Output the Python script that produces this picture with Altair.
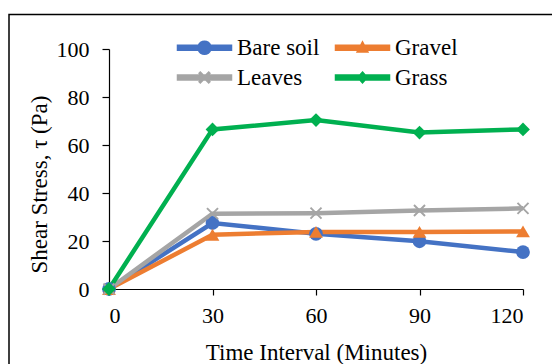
import math
import altair as alt
import pandas as pd

# ---- data ----
times = [0, 30, 60, 90, 120]
series_names = ["Bare soil", "Gravel", "Leaves", "Grass"]
bare_soil = [0, 27.5, 23.0, 19.9, 15.4]
gravel = [0, 22.6, 23.8, 23.8, 24.0]
leaves = [0, 31.4, 31.6, 32.7, 33.6]
grass = [0, 66.5, 70.4, 65.2, 66.5]
y_ticks = [0, 20, 40, 60, 80, 100]
x_ticks = [0, 30, 60, 90, 120]

values = {"Bare soil": bare_soil, "Gravel": gravel, "Leaves": leaves, "Grass": grass}
rows = []
for name in series_names:
    for t, v in zip(times, values[name]):
        rows.append({"series": name, "time": t, "stress": v})
df = pd.DataFrame(rows)

# ---- styles ----
colors = ["#4472C4", "#ED7D31", "#A5A5A5", "#00B050"]
FONT = "Liberation Serif"
LFONT = "Times New Roman"

X_PATH = ("M -0.7 -0.9 L 0.9 0.7 L 0.7 0.9 L -0.9 -0.7 Z "
          "M 0.7 -0.9 L 0.9 -0.7 L -0.7 0.9 L -0.9 0.7 Z")
plot_shapes = ["circle", "triangle-up", X_PATH, "diamond"]

def poly_circle(r, n=20):
    pts = []
    for i in range(n):
        a = -math.pi + 2 * math.pi * i / n
        pts.append(f"{r*math.cos(a):.3f} {r*math.sin(a):.3f}")
    return "M " + " L ".join(pts) + " Z"

LINE = "M -4.5 -0.4 L 4.5 -0.4 L 4.5 0.4 L -4.5 0.4 Z "
legend_paths = [
    LINE + poly_circle(1.1),
    LINE + "M 0 -1 L 0.9 0.7 L -0.9 0.7 Z",
    LINE + X_PATH,
    LINE + "M 0 -0.9 L 0.8 0 L 0 0.9 L -0.8 0 Z",
]

x_enc = alt.X("time:Q", scale=alt.Scale(domain=[0, 120], nice=False),
              axis=alt.Axis(values=x_ticks, title="Time Interval (Minutes)",
                            labelFont=LFONT,
                            tickSize=6, labelPadding=10, titleY=63, titleBaseline="middle"))
y_enc = alt.Y("stress:Q", scale=alt.Scale(domain=[0, 100], nice=False),
              axis=alt.Axis(values=y_ticks, title="Shear Stress, τ (Pa)",
                            labelFont=LFONT,
                            tickSize=7, labelPadding=13, titleX=-70, titleY=135,
                            titleAngle=270, titleBaseline="middle", titleAlign="center"))
color_scale = alt.Scale(domain=series_names, range=colors)

base = alt.Chart(df)

leg = alt.Legend(title=None, orient="none", legendX=84, legendY=-13, columns=2,
                 direction="horizontal", symbolSize=144, symbolOpacity=1,
                 labelFont=LFONT, labelFontSize=23, labelColor="black",
                 labelOffset=21, columnPadding=12, rowPadding=6)

# carrier of the legend: tiny symbols hidden underneath the lines
legend_layer = base.mark_point(filled=True, size=1).encode(
    x=x_enc, y=y_enc,
    color=alt.Color("series:N", scale=color_scale, legend=leg),
    shape=alt.Shape("series:N", scale=alt.Scale(domain=series_names, range=legend_paths),
                    legend=leg),
)

lines = base.mark_line(strokeWidth=4.5).encode(
    x="time:Q", y="stress:Q",
    color=alt.Color("series:N", scale=color_scale, legend=None),
    detail="series:N",
)

point_layers = []
for name, shp in zip(series_names, plot_shapes):
    point_layers.append(
        base.transform_filter(alt.datum.series == name).mark_point(
            filled=True, opacity=1, size=190, shape=shp
        ).encode(
            x="time:Q", y="stress:Q",
            color=alt.Color("series:N", scale=color_scale, legend=None),
        )
    )

frame = alt.Chart(pd.DataFrame({"f": [0]})).mark_rect(
    fillOpacity=0, stroke="black", strokeWidth=1.5
).encode(x=alt.value(-100), x2=alt.value(700), y=alt.value(-34.5), y2=alt.value(500))

chart = alt.layer(frame, legend_layer, lines, *point_layers).properties(
    width=414, height=240,
    autosize=alt.AutoSizeParams(type="none"),
    padding={"left": 109, "top": 49, "right": 29, "bottom": 75},
    background="white",
).configure(
    font=FONT,
    style={"guide-label": {"font": LFONT, "fill": "black"},
           "guide-title": {"font": FONT, "fill": "black"}},
).configure_view(stroke=None).configure_axis(
    grid=False, domainColor="black", domainWidth=1.2, tickColor="black", tickWidth=1.2,
    labelFont=LFONT, labelFontSize=22, labelColor="black",
    titleFont=FONT, titleFontSize=23, titleColor="black", titleFontWeight="normal",
).configure_legend(labelFont=LFONT)

chart.save("out.html", embed_options={"renderer": "svg", "actions": False})
